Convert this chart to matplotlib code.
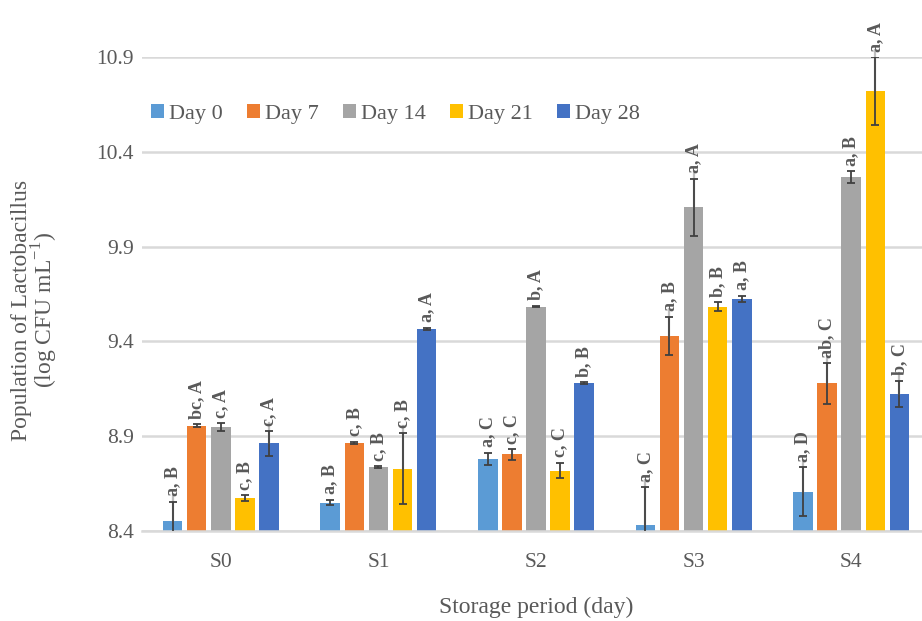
import numpy as np
import matplotlib.pyplot as plt

# population of Lactobacillus per sample, grouped by storage day
samples = ["S0", "S1", "S2", "S3", "S4"]
days = ["Day 0", "Day 7", "Day 14", "Day 21", "Day 28"]

day0 = [8.453, 8.550, 8.780, 8.430, 8.607]
day7 = [8.954, 8.866, 8.804, 9.430, 9.178]
day14 = [8.949, 8.736, 9.583, 10.108, 10.265]
day21 = [8.574, 8.729, 8.719, 9.583, 10.719]
day28 = [8.862, 9.467, 9.180, 9.625, 9.122]

err0 = [0.100, 0.015, 0.034, 0.200, 0.128]
err7 = [0.008, 0.005, 0.027, 0.100, 0.106]
err14 = [0.020, 0.006, 0.004, 0.150, 0.032]
err21 = [0.015, 0.186, 0.040, 0.024, 0.179]
err28 = [0.065, 0.005, 0.005, 0.016, 0.070]

lab0 = ["a, B", "a, B", "a, C", "a, C", "a, D"]
lab7 = ["bc, A", "c, B", "c, C", "a, B", "ab, C"]
lab14 = ["c, A", "c, B", "b, A", "a, A", "a, B"]
lab21 = ["c, B", "c, B", "c, C", "b, B", "a, A"]
lab28 = ["c, A", "a, A", "b, B", "a, B", "b, C"]

colors = ["#5B9BD5", "#ED7D31", "#A5A5A5", "#FFC000", "#4472C4"]
txt = "#595959"

plt.rcParams["font.family"] = ["Liberation Serif", "DejaVu Serif"]

fig = plt.figure(figsize=(9.22, 6.21), dpi=100)
ax = fig.add_axes([142 / 922, 90 / 621, 788 / 922, 474 / 621])

x = np.arange(len(samples))
step = 0.153
width = 0.124

series = [(day0, err0, lab0), (day7, err7, lab7), (day14, err14, lab14),
          (day21, err21, lab21), (day28, err28, lab28)]

for i, (vals, errs, labs) in enumerate(series):
    pos = x + (i - 2) * step
    ax.bar(pos, vals, width, bottom=0, color=colors[i], label=days[i], zorder=2)
    for p, v, e, t in zip(pos, vals, errs, labs):
        if e >= 0.06:
            # leader line from the bar top to its label
            ax.plot([p, p], [v, v + e + 0.04], color="#bfbfbf", lw=1.6,
                    zorder=3, clip_on=False)
        ax.annotate(t, (p, v + e), xytext=(0, 4), textcoords="offset points",
                    rotation=90, ha="center", va="bottom", fontsize=13,
                    fontweight="bold", color=txt, annotation_clip=False)
    ax.errorbar(pos, vals, yerr=errs, fmt="none", ecolor="#404040",
                elinewidth=1.3, capsize=3, capthick=1.3, zorder=4)

ax.set_ylim(8.4, 10.9)
ax.set_xlim(-0.5, len(samples) - 0.5)
ax.set_yticks([8.4, 8.9, 9.4, 9.9, 10.4, 10.9])
ax.set_yticklabels(["8.4", "8.9", "9.4", "9.9", "10.4", "10.9"])
ax.set_xticks(x)
ax.set_xticklabels(samples)
ax.tick_params(axis="both", length=0, labelsize=15.5, colors=txt)
ax.tick_params(axis="y", pad=6)
ax.tick_params(axis="x", pad=16)

ax.grid(axis="y", color="#d9d9d9", lw=1.8, zorder=0)
ax.set_axisbelow(True)
for s in ["top", "right", "left"]:
    ax.spines[s].set_visible(False)
ax.spines["bottom"].set_color("#d9d9d9")
ax.spines["bottom"].set_linewidth(1.8)

ax.set_xlabel("Storage period (day)", fontsize=17, color=txt, labelpad=18)
ax.set_ylabel("Population of Lactobacillus\n(log CFU mL$^{\\mathregular{-1}}$)",
              fontsize=17, color=txt, linespacing=0.9)
ax.yaxis.set_label_coords(-0.104, 0.466)

ax.legend(loc="center left", bbox_to_anchor=(0.0, 0.88), ncol=5,
          frameon=False, fontsize=16, labelcolor=txt, handlelength=0.6,
          handleheight=0.6, handletextpad=0.2, columnspacing=1.1,
          borderaxespad=0)

fig.savefig("out.png", dpi=100)
